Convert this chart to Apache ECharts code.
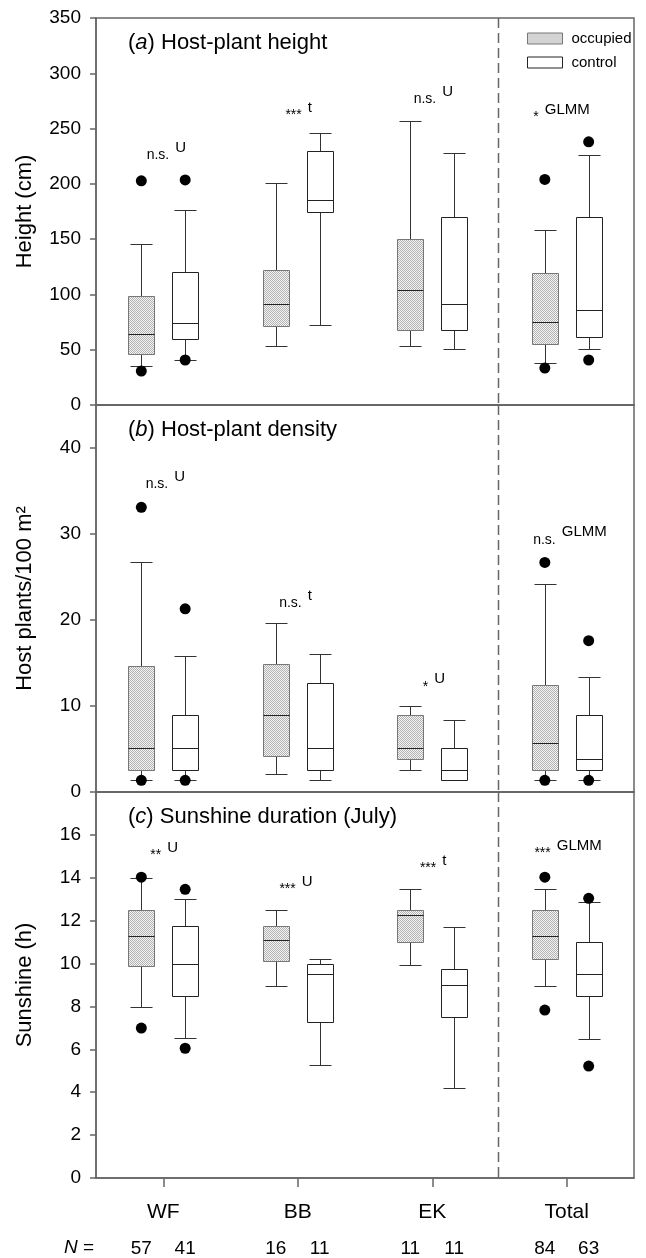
<!DOCTYPE html>
<html>
<head>
<meta charset="utf-8">
<title>Host plants</title>
<script src="https://cdn.jsdelivr.net/npm/echarts@6/dist/echarts.min.js"></script>
<style>
  html, body { margin: 0; padding: 0; background: #fff; }
  #main { width: 646px; height: 1258px; }
</style>
</head>
<body>
<div id="main"></div>
<script>
var sites = ['WF', 'BB', 'EK', 'Total'];

// box rows per site: [lower whisker, Q1, median, Q3, upper whisker]
var heightOcc = [[35.5, 45.8, 64.5, 98.8, 145.5], [53.6, 71, 91.6, 122, 201], [53.6, 68, 104, 150, 257], [38.3, 54.8, 74.7, 119.6, 158]];
var heightCtl = [[41, 60, 74, 120.5, 176], [72, 175, 185, 229.8, 245.8], [50.3, 67.5, 91, 169.9, 227.7], [50.3, 61.4, 85.8, 170, 226]];
// outliers: [site index, value]
var heightOccOut = [[0, 202.7], [0, 30.7], [3, 204], [3, 33.4]];
var heightCtlOut = [[0, 203.6], [0, 40.7], [3, 238], [3, 40.7]];

var densOcc = [[1.36, 2.6, 5.1, 14.6, 26.7], [2.1, 4.15, 8.9, 14.9, 19.7], [2.6, 3.8, 5.1, 8.9, 10], [1.36, 2.6, 5.7, 12.4, 24.2]];
var densCtl = [[1.36, 2.6, 5.1, 8.9, 15.8], [1.36, 2.6, 5.1, 12.7, 16], [1.36, 1.36, 2.6, 5.1, 8.4], [1.36, 2.6, 3.8, 8.9, 13.4]];
var densOccOut = [[0, 33.1], [0, 1.36], [3, 26.7], [3, 1.36]];
var densCtlOut = [[0, 21.3], [0, 1.36], [3, 17.6], [3, 1.36]];

var sunOcc = [[7.98, 9.89, 11.27, 12.48, 14], [8.96, 10.1, 11.12, 11.74, 12.48], [9.95, 11, 12.25, 12.5, 13.49], [8.95, 10.23, 11.27, 12.48, 13.49]];
var sunCtl = [[6.54, 8.5, 10, 11.74, 12.99], [5.29, 7.26, 9.49, 10, 10.2], [4.19, 7.49, 9, 9.74, 11.7], [6.48, 8.5, 9.49, 11, 12.88]];
var sunOccOut = [[0, 14.03], [0, 6.99], [3, 14.03], [3, 7.83]];
var sunCtlOut = [[0, 13.46], [0, 6.05], [3, 13.04], [3, 5.22]];

var nOcc = [57, 16, 11, 84];
var nCtl = [41, 11, 11, 63];

// test results per site: level of the test label, significance, test
var heightNoteAt = [233, 268.6, 283, 267];
var heightSig = ['n.s.', '***', 'n.s.', '*'];
var heightTest = ['U', 't', 'U', 'GLMM'];
var densNoteAt = [36.7, 22.8, 13.1, 30.2];
var densSig = ['n.s.', 'n.s.', '*', 'n.s.'];
var densTest = ['U', 't', 'U', 'GLMM'];
var sunNoteAt = [15.4, 13.8, 14.8, 15.5];
var sunSig = ['**', '***', '***', '***'];
var sunTest = ['U', 'U', 't', 'GLMM'];

var panelTitles = ['({i|a}) Host-plant height', '({i|b}) Host-plant density', '({i|c}) Sunshine duration (July)'];
var axisNames = ['Height (cm)', 'Host plants/100 m\u00b2', 'Sunshine (h)'];
var axisMax = [350, 45, 18];
var axisStep = [50, 10, 2];

var FONT = '"Liberation Sans", Arial, sans-serif';
var AXIS = '#666';

// stippled fill of the occupied boxes
var dots = document.createElement('canvas');
dots.width = 2; dots.height = 2;
var g = dots.getContext('2d');
g.fillStyle = '#f4f4f4'; g.fillRect(0, 0, 2, 2);
g.fillStyle = '#b2b2b2'; g.fillRect(0, 0, 1, 1); g.fillRect(1, 1, 1, 1);
var dotFill = { image: dots, repeat: 'repeat' };

var SHIFT = 0.163; // box offset from category centre, share of band

function rows(boxes) {
  return boxes.map(function (b, i) { return [i].concat(b); });
}

function boxItem(dir, filled) {
  return function (params, api) {
    var band = api.size([1, 0])[0];
    var i = api.value(0);
    var x = Math.round(api.coord([i, 0])[0] + dir * SHIFT * band) + 0.5;
    var y = [1, 2, 3, 4, 5].map(function (d) {
      return Math.round(api.coord([i, api.value(d)])[1]) + 0.5;
    });
    var hw = Math.round(band * 0.1), cw = Math.round(band * 0.085);
    var ln = { stroke: '#333', lineWidth: 1 };
    return { type: 'group', children: [
      { type: 'line', shape: { x1: x, y1: y[0], x2: x, y2: y[1] }, style: ln },
      { type: 'line', shape: { x1: x, y1: y[3], x2: x, y2: y[4] }, style: ln },
      { type: 'line', shape: { x1: x - cw, y1: y[0], x2: x + cw, y2: y[0] }, style: ln },
      { type: 'line', shape: { x1: x - cw, y1: y[4], x2: x + cw, y2: y[4] }, style: ln },
      { type: 'rect', shape: { x: x - hw, y: y[3], width: 2 * hw, height: y[1] - y[3] },
        style: { fill: filled ? dotFill : '#fff', stroke: filled ? '#777' : '#222', lineWidth: 1 } },
      { type: 'line', shape: { x1: x - hw, y1: y[2], x2: x + hw, y2: y[2] }, style: { stroke: '#222', lineWidth: 1 } }
    ] };
  };
}

function dotItem(dir) {
  return function (params, api) {
    var band = api.size([1, 0])[0];
    var p = api.coord([api.value(0), api.value(1)]);
    return { type: 'circle', shape: { cx: p[0] + dir * SHIFT * band, cy: p[1], r: 5.5 }, style: { fill: '#000' } };
  };
}

// horizontal placement of each test label from the category centre (px)
var noteShift = [[12, 10, 10, -22], [11, 10, 2, -5], [4, 4, 10, -10]];

function noteItem(sig, test, shift) {
  return function (params, api) {
    var k = params.dataIndex;
    var p = api.coord([api.value(0), api.value(1)]);
    var x = p[0] + shift[k];
    return { type: 'group', children: [
      { type: 'text', x: x - 6, y: p[1] + 7.5,
        style: { text: sig[k], fontSize: 14, fontFamily: FONT, fill: '#000', align: 'right', verticalAlign: 'middle' } },
      { type: 'text', x: x, y: p[1],
        style: { text: test[k], fontSize: 15, fontFamily: FONT, fill: '#000', align: 'left', verticalAlign: 'middle' } }
    ] };
  };
}

function dividerItem(params, api) {
  var cs = params.coordSys;
  var x = Math.round((api.coord([2, 0])[0] + api.coord([3, 0])[0]) / 2) - 1.5;
  return { type: 'line', shape: { x1: x, y1: cs.y, x2: x, y2: cs.y + cs.height },
    style: { stroke: AXIS, lineWidth: 1.5, lineDash: [10, 5] } };
}

function countItem(params, api) {
  var k = params.dataIndex;
  var band = api.size([1, 0])[0];
  var p = api.coord([api.value(0), 0]);
  var st = { fontSize: 19, fontFamily: FONT, fill: '#000', align: 'center', verticalAlign: 'middle' };
  return { type: 'group', children: [
    { type: 'text', x: p[0] - SHIFT * band, y: p[1] + 71, style: Object.assign({ text: String(nOcc[k]) }, st) },
    { type: 'text', x: p[0] + SHIFT * band, y: p[1] + 71, style: Object.assign({ text: String(nCtl[k]) }, st) }
  ] };
}

var panels = [
  { occ: heightOcc, ctl: heightCtl, occOut: heightOccOut, ctlOut: heightCtlOut, at: heightNoteAt, sig: heightSig, test: heightTest },
  { occ: densOcc, ctl: densCtl, occOut: densOccOut, ctlOut: densCtlOut, at: densNoteAt, sig: densSig, test: densTest },
  { occ: sunOcc, ctl: sunCtl, occOut: sunOccOut, ctlOut: sunCtlOut, at: sunNoteAt, sig: sunSig, test: sunTest }
];

var gridTops = [18, 405, 792];
var grids = [], xAxes = [], yAxes = [], titles = [], series = [];

panels.forEach(function (pn, p) {
  var last = p === 2;
  grids.push({ left: 96, right: 12, top: gridTops[p], height: p === 2 ? 386 : 387,
    show: true, borderColor: AXIS, borderWidth: 1.5, backgroundColor: 'transparent' });
  xAxes.push({ type: 'category', gridIndex: p, data: sites,
    axisLine: { show: true, lineStyle: { color: AXIS, width: 1.5 } },
    axisTick: { show: last, alignWithLabel: true, length: 9, lineStyle: { color: AXIS, width: 1.5 } },
    axisLabel: { show: last, fontSize: 21, color: '#000', margin: 24, fontFamily: FONT },
    splitLine: { show: false } });
  yAxes.push({ type: 'value', gridIndex: p, min: 0, max: axisMax[p], interval: axisStep[p],
    name: axisNames[p], nameLocation: 'middle', nameGap: 60,
    nameTextStyle: { fontSize: 22, color: '#000', fontFamily: FONT },
    axisLine: { show: true, lineStyle: { color: AXIS, width: 1.5 } },
    axisTick: { show: true, length: 6, lineStyle: { color: AXIS, width: 1.5 } },
    axisLabel: { fontSize: 19, color: '#000', margin: 15, fontFamily: FONT, showMaxLabel: p === 0 },
    splitLine: { show: false } });
  titles.push({ text: panelTitles[p], left: 128, top: gridTops[p] + 14, padding: 0,
    textStyle: { fontSize: 22, fontWeight: 'normal', color: '#000', fontFamily: FONT,
      rich: { i: { fontStyle: 'italic', fontSize: 22, fontFamily: FONT, color: '#000' } } } });

  var base = { type: 'custom', xAxisIndex: p, yAxisIndex: p, silent: true, clip: false };
  series.push(Object.assign({}, base, { name: 'occupied', data: rows(pn.occ), encode: { x: 0, y: [1, 2, 3, 4, 5] }, renderItem: boxItem(-1, true) }));
  series.push(Object.assign({}, base, { name: 'control', data: rows(pn.ctl), encode: { x: 0, y: [1, 2, 3, 4, 5] }, renderItem: boxItem(1, false) }));
  series.push(Object.assign({}, base, { name: 'occupied outliers', data: pn.occOut, encode: { x: 0, y: 1 }, renderItem: dotItem(-1) }));
  series.push(Object.assign({}, base, { name: 'control outliers', data: pn.ctlOut, encode: { x: 0, y: 1 }, renderItem: dotItem(1) }));
  series.push(Object.assign({}, base, { name: 'tests', data: pn.at.map(function (v, i) { return [i, v]; }), encode: { x: 0, y: 1 },
    renderItem: noteItem(pn.sig, pn.test, noteShift[p]) }));
  series.push(Object.assign({}, base, { name: 'divider', data: [[0, 0]], encode: { x: 0, y: 1 }, renderItem: dividerItem }));
  if (last) {
    series.push(Object.assign({}, base, { name: 'N', data: sites.map(function (s, i) { return [i, 0]; }), encode: { x: 0, y: 1 }, renderItem: countItem }));
  }
});

var chart = echarts.init(document.getElementById('main'), null, { renderer: 'canvas' });
chart.setOption({
  animation: false,
  backgroundColor: '#fff',
  textStyle: { fontFamily: FONT },
  title: titles,
  grid: grids,
  xAxis: xAxes,
  yAxis: yAxes,
  legend: {
    orient: 'vertical', left: 527, top: 31, padding: 0,
    itemWidth: 35, itemHeight: 11, itemGap: 9,
    textStyle: { fontSize: 15, color: '#000', fontFamily: FONT, padding: [0, 0, 0, 4] },
    selectedMode: false,
    data: [
      { name: 'occupied', icon: 'rect', itemStyle: { color: dotFill, borderColor: '#777', borderWidth: 1 } },
      { name: 'control', icon: 'rect', itemStyle: { color: '#fff', borderColor: '#222', borderWidth: 1 } }
    ]
  },
  graphic: [{
    type: 'text', left: 64, top: 1238,
    style: { text: '{i|N} =', fontSize: 19, fontFamily: FONT, fill: '#000',
      rich: { i: { fontStyle: 'italic', fontSize: 19, fontFamily: FONT } } }
  }],
  series: series
});
</script>
</body>
</html>
